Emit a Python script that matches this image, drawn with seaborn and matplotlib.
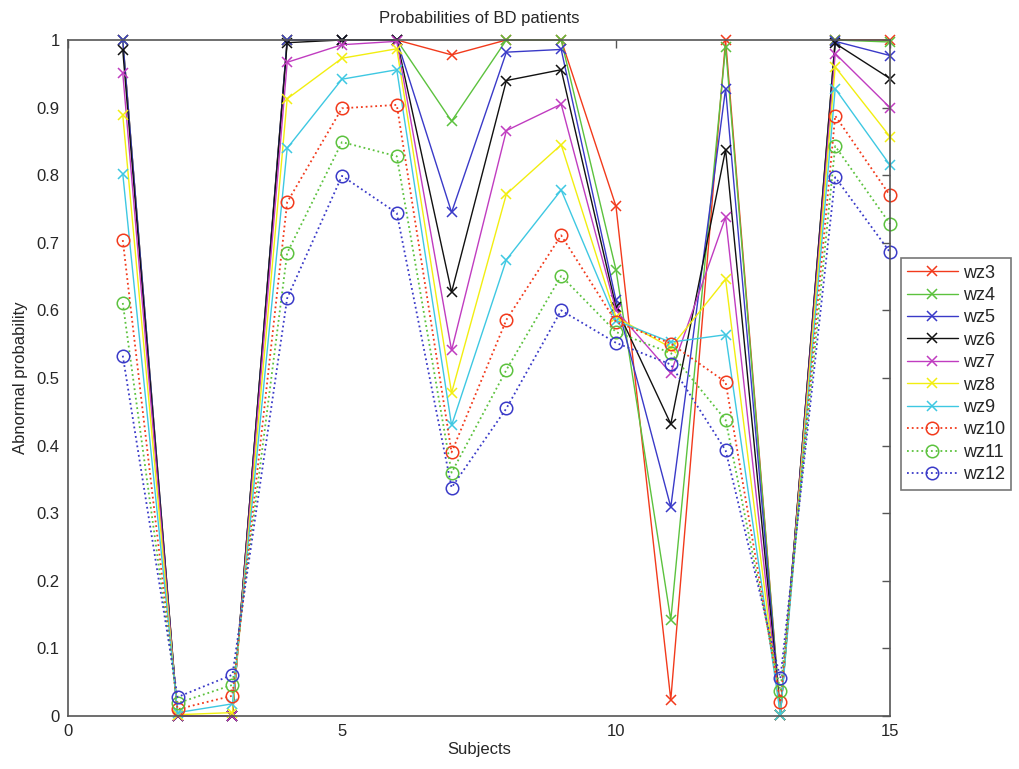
import numpy as np
import pandas as pd
import seaborn as sns
import matplotlib
matplotlib.use("Agg")
import matplotlib.pyplot as plt

# subjects and per-window probabilities
subjects = list(range(1, 16))
labels = ['wz3', 'wz4', 'wz5', 'wz6', 'wz7', 'wz8', 'wz9', 'wz10', 'wz11', 'wz12']

wz3 = [1.0, 0.0, 0.0, 1.0, 1.0, 1.0, 0.978, 1.0, 1.0, 0.754, 0.024, 1.0, 0.002, 1.0, 1.0]
wz4 = [1.0, 0.0, 0.0, 1.0, 1.0, 1.0, 0.880, 1.0, 1.0, 0.660, 0.142, 0.99, 0.002, 1.0, 0.997]
wz5 = [1.0, 0.0, 0.0, 1.0, 1.0, 1.0, 0.745, 0.982, 0.986, 0.615, 0.309, 0.928, 0.002, 0.998, 0.977]
wz6 = [0.985, 0.0, 0.0, 0.996, 1.0, 1.0, 0.627, 0.940, 0.956, 0.605, 0.432, 0.838, 0.002, 0.995, 0.943]
wz7 = [0.951, 0.0, 0.0, 0.967, 0.993, 0.998, 0.541, 0.866, 0.905, 0.600, 0.507, 0.738, 0.002, 0.980, 0.900]
wz8 = [0.889, 0.002, 0.005, 0.913, 0.973, 0.987, 0.478, 0.772, 0.845, 0.590, 0.545, 0.646, 0.002, 0.960, 0.857]
wz9 = [0.802, 0.005, 0.018, 0.840, 0.942, 0.956, 0.430, 0.675, 0.778, 0.585, 0.553, 0.564, 0.002, 0.928, 0.815]
wz10 = [0.704, 0.010, 0.030, 0.760, 0.899, 0.904, 0.390, 0.586, 0.711, 0.583, 0.551, 0.494, 0.020, 0.888, 0.770]
wz11 = [0.611, 0.019, 0.046, 0.685, 0.849, 0.828, 0.360, 0.512, 0.651, 0.568, 0.537, 0.438, 0.037, 0.843, 0.728]
wz12 = [0.533, 0.028, 0.061, 0.618, 0.799, 0.744, 0.338, 0.455, 0.600, 0.552, 0.520, 0.393, 0.056, 0.797, 0.686]

series = [wz3, wz4, wz5, wz6, wz7, wz8, wz9, wz10, wz11, wz12]
colors = ['#f23a1c', '#5cc23e', '#3a3ac8', '#111111', '#c03cc0',
          '#f2ee10', '#3ec8e2', '#f23a1c', '#5cc23e', '#3a3ac8']

df = pd.DataFrame({
    'Subject': subjects * len(labels),
    'Probability': np.concatenate(series),
    'Window': np.repeat(labels, len(subjects)),
})

sns.set_style('white')
plt.rcParams['font.family'] = ['Liberation Sans', 'DejaVu Sans']

fig = plt.figure(figsize=(10.19, 7.69), dpi=100)
ax = fig.add_axes([0.0667, 0.0689, 0.8067, 0.8791])

for i, lab in enumerate(labels):
    sub = df[df['Window'] == lab]
    if i < 7:
        sns.lineplot(data=sub, x='Subject', y='Probability', ax=ax, color=colors[i],
                     marker='x', markersize=7, markeredgewidth=1.1,
                     markeredgecolor=colors[i], linewidth=1.0,
                     label=lab, clip_on=False)
    else:
        sns.lineplot(data=sub, x='Subject', y='Probability', ax=ax, color=colors[i],
                     marker='o', markersize=9, markerfacecolor='none',
                     markeredgecolor=colors[i], markeredgewidth=1.1,
                     linestyle=':', linewidth=1.3, label=lab, clip_on=False)

ax.set_xlim(0, 15)
ax.set_ylim(0, 1)
ax.set_xticks([0, 5, 10, 15])
ax.set_xticklabels(['0', '5', '10', '15'])
yt = np.round(np.arange(0, 1.01, 0.1), 1)
ax.set_yticks(yt)
ax.set_yticklabels(['0'] + [f'{v:g}' for v in yt[1:-1]] + ['1'])
ax.tick_params(direction='in', top=True, right=True, length=6, width=1,
               labelsize=12, color='#555555', pad=6)
for s in ax.spines.values():
    s.set_color('#555555')
    s.set_linewidth(1.2)

ax.set_title('Probabilities of BD patients', fontsize=12, pad=12)
ax.set_xlabel('Subjects', fontsize=12, labelpad=2)
ax.set_ylabel('Abnormal probability', fontsize=12, labelpad=6)

leg = ax.legend(loc='upper left', bbox_to_anchor=(0.875, 0.676),
                bbox_transform=fig.transFigure, fontsize=13, frameon=True,
                fancybox=False, edgecolor='#555555', handlelength=2.8,
                labelspacing=0.3, borderpad=0.35, handletextpad=0.3,
                numpoints=1)
leg.get_frame().set_linewidth(1.2)

fig.savefig('out.png', dpi=100)
